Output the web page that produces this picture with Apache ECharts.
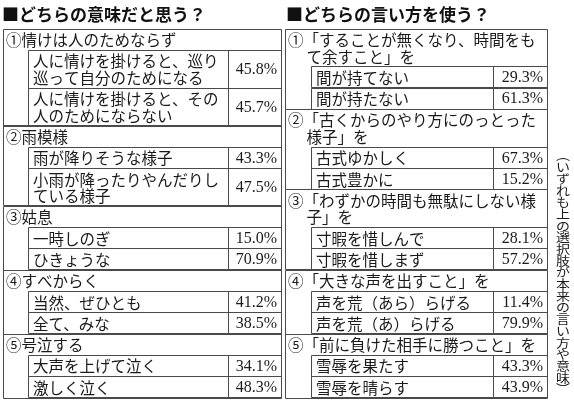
<!DOCTYPE html>
<html>
<head>
<meta charset="utf-8">
<script src="https://cdn.jsdelivr.net/npm/echarts@6/dist/echarts.min.js"></script>
<style>
html,body{margin:0;padding:0;background:#fff}
#main{width:574px;height:407px}
</style>
</head>
<body>
<div id="main"></div>
<script>
// 表のデータ
var leftTitle = '■どちらの意味だと思う？';
var rightTitle = '■どちらの言い方を使う？';
var note = '（いずれも上の選択肢が本来の言い方や意味）';

var leftQuestions = ['①情けは人のためならず', '②雨模様', '③姑息', '④すべからく', '⑤号泣する'];
var leftOptions = [
    ['人に情けを掛けると、巡り\n巡って自分のためになる', '人に情けを掛けると、その\n人のためにならない'],
    ['雨が降りそうな様子', '小雨が降ったりやんだりし\nている様子'],
    ['一時しのぎ', 'ひきょうな'],
    ['当然、ぜひとも', '全て、みな'],
    ['大声を上げて泣く', '激しく泣く']
];
var leftValues = [[45.8, 45.7], [43.3, 47.5], [15.0, 70.9], [41.2, 38.5], [34.1, 48.3]];

var rightQuestions = [
    '①「することが無くなり、時間をも\nて余すこと」を',
    '②「古くからのやり方にのっとった\n様子」を',
    '③「わずかの時間も無駄にしない様\n子」を',
    '④「大きな声を出すこと」を',
    '⑤「前に負けた相手に勝つこと」を'
];
var rightOptions = [
    ['間が持てない', '間が持たない'],
    ['古式ゆかしく', '古式豊かに'],
    ['寸暇を惜しんで', '寸暇を惜しまず'],
    ['声を荒（あら）らげる', '声を荒（あ）らげる'],
    ['雪辱を果たす', '雪辱を晴らす']
];
var rightValues = [[29.3, 61.3], [67.3, 15.2], [28.1, 57.2], [11.4, 79.9], [43.3, 43.9]];

// 見た目
var FONT = '"Noto Sans CJK JP", sans-serif';
var NUM_FONT = '"Liberation Serif", "Noto Sans CJK JP", serif';
var FS = 15.5, LH = 16.5, PAD = 4.8, TOP = 29;
var LINE = '#4a4a4a', INK = '#1a1a1a';

var tables = [
    {x0: 3, xi: 28, xp: 228, x1: 281, q: leftQuestions, o: leftOptions, v: leftValues},
    {x0: 285, xi: 311, xp: 493, x1: 547, q: rightQuestions, o: rightOptions, v: rightValues}
];

function nLines(s) { return s.split('\n').length; }

// 行を積み上げる
var items = [];
tables.forEach(function (t) {
    var y = TOP;
    t.q.forEach(function (q, g) {
        var gy0 = y;
        var h = PAD + LH * nLines(q);
        items.push({kind: 'head', t: t, y0: y, y1: y + h, text: q});
        y += h;
        t.o[g].forEach(function (o, k) {
            var h2 = PAD + LH * nLines(o);
            items.push({kind: 'opt', t: t, y0: y, y1: y + h2, text: o, value: t.v[g][k]});
            y += h2;
        });
        items.push({kind: 'group', t: t, y0: gy0, y1: y});
    });
});

function crisp(v) { return Math.round(v - 0.5) + 0.5; }

function renderItem(params, api) {
    var it = items[params.dataIndex];
    var t = it.t;
    var X = function (v) { return api.coord([v, 0])[0]; };
    var yTop = api.coord([0, it.y0])[1];
    var yBot = api.coord([0, it.y1])[1];
    var mid = (yTop + yBot) / 2;
    var ls = {fill: 'none', stroke: LINE, lineWidth: 1};
    var kids = [];
    if (it.kind === 'group') {
        kids.push({type: 'rect', shape: {x: crisp(X(t.x0)), y: crisp(yTop), width: Math.round(X(t.x1) - X(t.x0)), height: Math.round(yBot - yTop)}, style: ls});
    } else if (it.kind === 'opt') {
        kids.push({type: 'rect', shape: {x: crisp(X(t.xi)), y: crisp(yTop), width: Math.round(X(t.x1) - X(t.xi)), height: Math.round(yBot - yTop)}, style: ls});
        kids.push({type: 'line', shape: {x1: crisp(X(t.xp)), y1: crisp(yTop), x2: crisp(X(t.xp)), y2: crisp(yBot)}, style: {stroke: LINE, lineWidth: 1}});
        kids.push({type: 'text', style: {text: it.text, x: X(t.xi) + 5, y: mid + 0.5, fontSize: FS, fontFamily: FONT, fill: INK, lineHeight: LH, align: 'left', verticalAlign: 'middle'}});
        kids.push({type: 'text', style: {text: it.value.toFixed(1) + '%', x: X(t.x1) - 4, y: mid + 0.5, fontSize: 16, fontFamily: NUM_FONT, fill: INK, align: 'right', verticalAlign: 'middle'}});
    } else {
        var lines = it.text.split('\n');
        lines.forEach(function (s, i) {
            kids.push({type: 'text', style: {
                text: s, x: X(t.x0) + 3 + (i > 0 ? FS * 1.2 : 0), y: mid - (lines.length - 1) * LH / 2 + i * LH + 0.5,
                fontSize: FS, fontFamily: FONT, fill: INK, align: 'left', verticalAlign: 'middle'
            }});
        });
    }
    return {type: 'group', children: kids};
}

var myChart = echarts.init(document.getElementById('main'));
var options = {
    backgroundColor: '#fff',
    animation: false,
    title: [{
        text: leftTitle, left: 2, top: 6, padding: 0,
        textStyle: {fontSize: 17, fontWeight: 'bold', fontFamily: FONT, color: '#111'}
    }, {
        text: rightTitle, left: 286, top: 6, padding: 0,
        textStyle: {fontSize: 17, fontWeight: 'bold', fontFamily: FONT, color: '#111'}
    }],
    grid: {left: 0, right: 0, top: 0, bottom: 0},
    xAxis: {type: 'value', min: 0, max: 574, show: false},
    yAxis: {type: 'value', min: 0, max: 407, inverse: true, show: false},
    series: [{
        type: 'custom',
        renderItem: renderItem,
        encode: {x: [0, 2], y: [1, 3]},
        data: items.map(function (it) { return [it.t.x0, it.y0, it.t.x1, it.y1]; }),
        silent: true
    }],
    graphic: [{
        // 縦書きの注記（縦方向に少し詰める）
        type: 'text', x: 563, y: 150, scaleY: 0.86, silent: true,
        style: {
            text: note.replace('（', '︵').replace('）', '︶').split('').join('\n'),
            fontSize: 14, lineHeight: 13.6, fontFamily: FONT, fill: INK,
            align: 'center', verticalAlign: 'top'
        }
    }]
};
myChart.setOption(options);
</script>
</body>
</html>
